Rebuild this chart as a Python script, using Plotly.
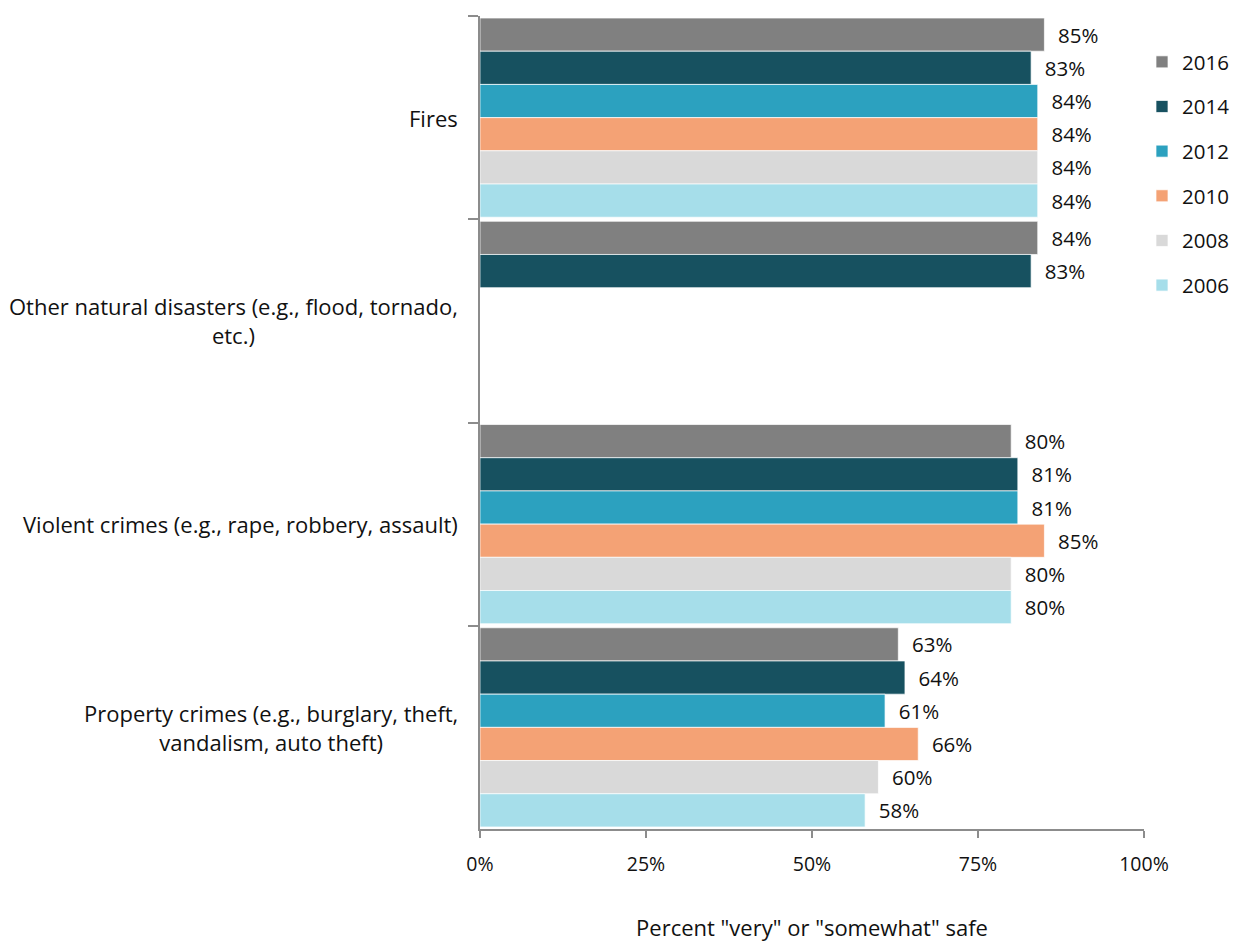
import plotly.graph_objects as go

categories = ["Fires",
              "Other natural disasters (e.g., flood, tornado,<br>etc.)",
              "Violent crimes (e.g., rape, robbery, assault)",
              "Property crimes (e.g., burglary, theft,<br>vandalism, auto theft)"]
years = ["2016", "2014", "2012", "2010", "2008", "2006"]
values = {
    "2016": [85, 84, 80, 63],
    "2014": [83, 83, 81, 64],
    "2012": [84, None, 81, 61],
    "2010": [84, None, 85, 66],
    "2008": [84, None, 80, 60],
    "2006": [84, None, 80, 58],
}
colors = {
    "2016": "#808080",
    "2014": "#175160",
    "2012": "#2CA1BF",
    "2010": "#F4A275",
    "2008": "#D9D9D9",
    "2006": "#A6DEEA",
}
x_ticks = [0, 25, 50, 75, 100]
x_ticktext = ["0%", "25%", "50%", "75%", "100%"]

FONT = "Open Sans"
TXT = "#111111"

fig = go.Figure()
for yr in years:
    vals = values[yr]
    fig.add_trace(go.Bar(
        y=categories, x=vals, orientation="h", name=yr,
        legendgroup=yr,
        marker=dict(color=colors[yr], line=dict(color="rgba(255,255,255,0.7)", width=1)),
        text=[f"\u00a0\u00a0{v}%" if v is not None else "" for v in vals],
        textposition="outside",
        textfont=dict(size=20.5, color=TXT, family=FONT),
        cliponaxis=False,
    ))

# category labels (centered multi-line, right edge near the axis)
for cat in categories:
    fig.add_annotation(
        x=0, xref="paper", y=cat, yref="y", text=cat, showarrow=False,
        xanchor="right", yanchor="middle", align="center", xshift=-20,
        font=dict(size=22, family=FONT, color=TXT),
    )

fig.update_layout(
    width=1235, height=943,
    margin=dict(l=480, r=91, t=16, b=114, autoexpand=False),
    barmode="group", bargap=0.02, bargroupgap=0,
    plot_bgcolor="white", paper_bgcolor="white",
    font=dict(family=FONT, size=19, color=TXT),
    legend=dict(x=0.997, y=0.968, xanchor="left", yanchor="top",
                traceorder="grouped", tracegroupgap=15,
                font=dict(size=20.5, family=FONT, color=TXT), itemwidth=30),
    showlegend=True,
)
fig.update_yaxes(
    autorange="reversed", showline=True, linecolor="#8c8c8c", linewidth=2,
    ticks="outside", ticklen=10, tickcolor="#8c8c8c", tickwidth=2,
    tickson="boundaries", showgrid=False, showticklabels=False,
)
fig.update_xaxes(
    range=[0, 100], tickvals=x_ticks, ticktext=x_ticktext,
    showline=True, linecolor="#8c8c8c", linewidth=2,
    ticks="outside", ticklen=7, tickcolor="#8c8c8c", tickwidth=2,
    showgrid=False, zeroline=False, ticklabelstandoff=10,
    tickfont=dict(size=19.5, family=FONT, color=TXT),
    title=dict(text='Percent "very" or "somewhat" safe', standoff=44,
               font=dict(size=22, family=FONT, color=TXT)),
)

fig.write_html("out.html")
